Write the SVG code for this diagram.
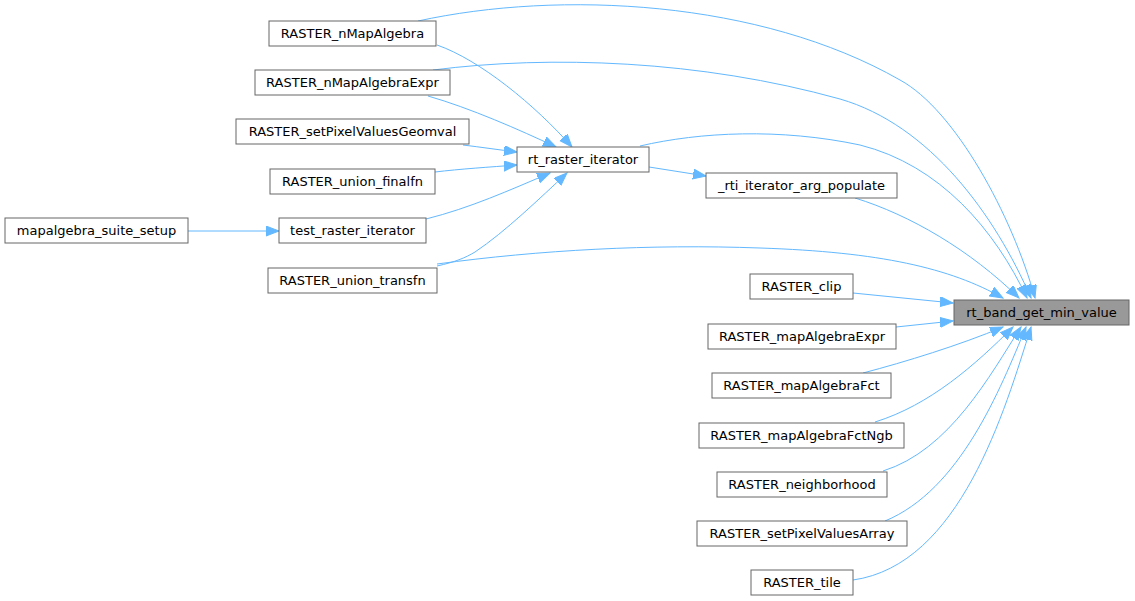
<svg xmlns="http://www.w3.org/2000/svg" width="1135" height="601" viewBox="0 0 1135 601">
<style>
.node rect{fill:#ffffff;stroke:#666666;stroke-width:1}
.node.target rect{fill:#999999}
.node text{font-family:"DejaVu Sans","Liberation Sans",sans-serif;font-size:13px;fill:#000000;text-anchor:middle}
.edges path{fill:none;stroke:#63b8ff;stroke-width:1;marker-end:url(#arr)}
</style>
<defs>
<marker id="arr" markerUnits="userSpaceOnUse" markerWidth="14" markerHeight="11" refX="13" refY="5" orient="auto">
<path d="M0,0 L13,5 L0,10 z" fill="#63b8ff" stroke="#63b8ff" stroke-width="1"/>
</marker>
</defs>
<rect width="1135" height="601" fill="#ffffff"/>
<g class="edges" id="edges">
<path d="M418,21 C560,-10 760,0 900,80 C955,110 1012,215 1035,298"/>
<path d="M437,45 C480,60 535,105 572,147"/>
<path d="M433,70 C550,55 700,60 840,99 C930,125 995,215 1031,298"/>
<path d="M428,96 C470,108 520,130 556,147"/>
<path d="M463,145 C480,147 500,150 517,152"/>
<path d="M435,172 C460,169 490,167 517,165"/>
<path d="M426,219 C470,208 510,190 550,173"/>
<path d="M437,266 C455,262 465,258 475,252 C505,232 540,198 567,173"/>
<path d="M437,264 C540,250 650,244 760,248 C880,252 950,268 1003,298"/>
<path d="M188,231 L279,231"/>
<path d="M649,167 L706,176"/>
<path d="M640,146 C700,132 780,128 860,145 C940,165 995,230 1027,298"/>
<path d="M855,198 C910,215 970,250 1019,298"/>
<path d="M853,293 L953,303"/>
<path d="M896,327 L953,321"/>
<path d="M863,373 C905,362 960,345 1003,327"/>
<path d="M875,422 C930,405 975,365 1013,327"/>
<path d="M883,471 C950,450 990,375 1021,327"/>
<path d="M885,521 C960,490 1000,390 1026,327"/>
<path d="M853,580 C960,565 1005,410 1031,327"/>
</g>
<g class="node" id="n_RASTER_nMapAlgebra"><rect x="269" y="21" width="167" height="25"/><text x="352.5" y="38">RASTER_nMapAlgebra</text></g>
<g class="node" id="n_RASTER_nMapAlgebraExpr"><rect x="255" y="70" width="195" height="25"/><text x="352.5" y="87">RASTER_nMapAlgebraExpr</text></g>
<g class="node" id="n_RASTER_setPixelValuesGeomval"><rect x="236" y="119" width="233" height="25"/><text x="352.5" y="136">RASTER_setPixelValuesGeomval</text></g>
<g class="node" id="n_RASTER_union_finalfn"><rect x="270" y="169" width="165" height="25"/><text x="352.5" y="186">RASTER_union_finalfn</text></g>
<g class="node" id="n_test_raster_iterator"><rect x="279" y="218" width="147" height="25"/><text x="352.5" y="235">test_raster_iterator</text></g>
<g class="node" id="n_RASTER_union_transfn"><rect x="268" y="268" width="169" height="25"/><text x="352.5" y="285">RASTER_union_transfn</text></g>
<g class="node" id="n_mapalgebra_suite_setup"><rect x="5" y="218" width="183" height="25"/><text x="96.5" y="235">mapalgebra_suite_setup</text></g>
<g class="node" id="n_rt_raster_iterator"><rect x="517" y="147" width="132" height="25"/><text x="583" y="164">rt_raster_iterator</text></g>
<g class="node" id="n_rti_iterator_arg_populate"><rect x="706" y="173" width="191" height="25"/><text x="801.5" y="190">_rti_iterator_arg_populate</text></g>
<g class="node target" id="n_rt_band_get_min_value"><rect x="954" y="300" width="175" height="25"/><text x="1041.5" y="317">rt_band_get_min_value</text></g>
<g class="node" id="n_RASTER_clip"><rect x="750" y="274" width="103" height="25"/><text x="801.5" y="291">RASTER_clip</text></g>
<g class="node" id="n_RASTER_mapAlgebraExpr"><rect x="708" y="324" width="188" height="25"/><text x="802" y="341">RASTER_mapAlgebraExpr</text></g>
<g class="node" id="n_RASTER_mapAlgebraFct"><rect x="712" y="373" width="179" height="25"/><text x="801.5" y="390">RASTER_mapAlgebraFct</text></g>
<g class="node" id="n_RASTER_mapAlgebraFctNgb"><rect x="699" y="423" width="205" height="25"/><text x="801.5" y="440">RASTER_mapAlgebraFctNgb</text></g>
<g class="node" id="n_RASTER_neighborhood"><rect x="717" y="472" width="170" height="25"/><text x="802" y="489">RASTER_neighborhood</text></g>
<g class="node" id="n_RASTER_setPixelValuesArray"><rect x="697" y="521" width="210" height="25"/><text x="802" y="538">RASTER_setPixelValuesArray</text></g>
<g class="node" id="n_RASTER_tile"><rect x="751" y="570" width="102" height="25"/><text x="802" y="587">RASTER_tile</text></g>
</svg>
